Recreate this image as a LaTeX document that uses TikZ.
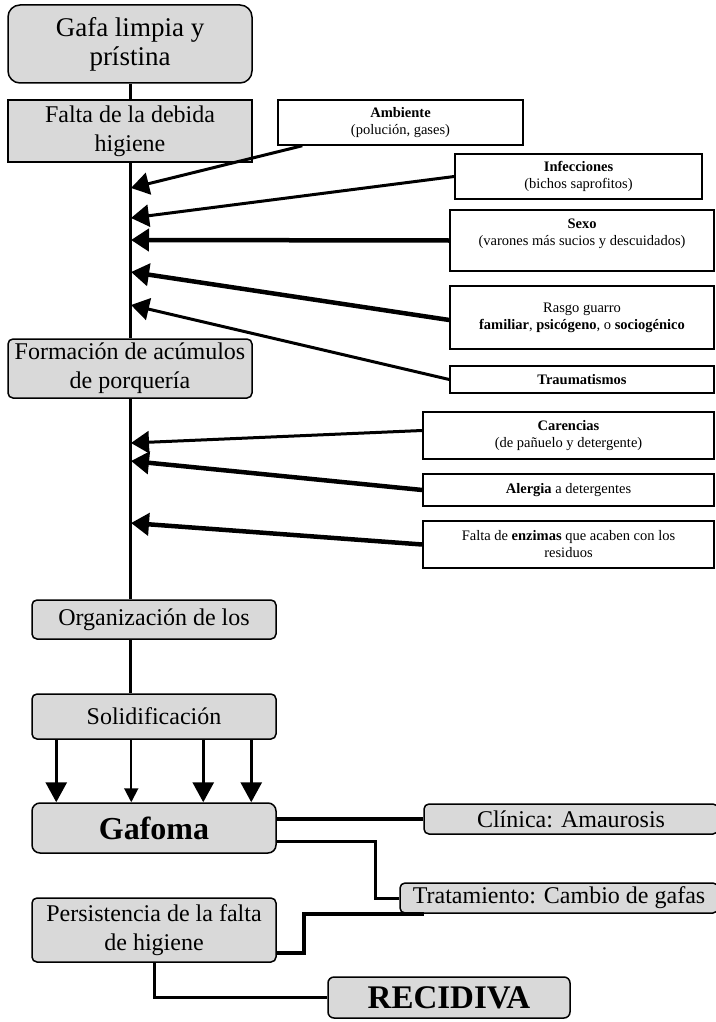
\documentclass[tikz,border=0pt]{standalone}
\usepackage{fontspec}
\setmainfont{Liberation Serif}
\usetikzlibrary{arrows.meta}

\newcommand{\letragrande}{\fontsize{24}{29}\selectfont}
\newcommand{\letrachica}{\fontsize{14.5}{17}\selectfont}

\begin{document}
\begin{tikzpicture}[x=1pt, y=-1pt,
        etapa/.style={
        draw=black, line width=1.5pt, fill=black!15,
        inner sep=0pt, align=center, font=\letragrande,
        minimum width=244pt, rounded corners=5pt},
        factor/.style={
        draw=black, line width=1.5pt, fill=white,
        inner sep=0pt, align=center, font=\letrachica},
        eje/.style={line width=3pt},
        enlace/.style={line width=3pt},
        causa/.style={line width=3pt, -{Triangle[length=18pt,width=22pt]}},
        causa gruesa/.style={causa, line width=4.5pt},
        caida/.style={line width=3pt, -{Triangle[length=20pt,width=21pt]}},
        caida fina/.style={line width=2pt, -{Triangle[length=14pt,width=14pt]}},
        ]

        \useasboundingbox (0,0) rectangle (715,1022);

        \node (gafa) [etapa, rounded corners=12pt, minimum height=78pt,
            font=\fontsize{27}{29}\selectfont] at (130,44) {Gafa limpia y\\prístina};
        \node (falta) [etapa, sharp corners, minimum height=62pt] at (130,131) {Falta de la debida\\higiene};
        \node (formacion) [etapa, minimum height=59pt] at (130,368.5) {Formación de acúmulos\\de porquería};
        \node (organizacion) [etapa, minimum height=39pt] at (154,619.5) {Organización de los};
        \node (solid) [etapa, minimum height=45pt] at (154,716.5) {Solidificación};
        \node (gafoma) [etapa, rounded corners=8pt, minimum height=50pt,
            font=\fontsize{32}{38}\selectfont\bfseries] at (154,828) {Gafoma};
        \node (clinica) [etapa, minimum width=294pt, minimum height=30pt] at (571,819) {Clínica: Amaurosis};
        \node (trat) [etapa, minimum width=318pt, minimum height=30pt] at (559,898) {Tratamiento: Cambio de gafas};
        \node (persist) [etapa, minimum height=64pt] at (154,930) {Persistencia de la falta\\de higiene};
        \node (recidiva) [etapa, rounded corners=6pt, minimum width=242pt, minimum height=41pt,
            font=\fontsize{33}{40}\selectfont\bfseries] at (449,997.5) {RECIDIVA};

        \node (ambiente) [factor, minimum width=245pt, minimum height=45pt] at (400.5,122.5)
            {\textbf{Ambiente}\\(polución, gases)};
        \node (infecciones) [factor, minimum width=247pt, minimum height=45pt] at (578.5,176.5)
            {\textbf{Infecciones}\\(bichos saprofitos)};
        \node (sexo) [factor, minimum width=264pt, minimum height=61pt] at (582,240.5)
            {\textbf{Sexo}\\(varones más sucios y descuidados)\\\mbox{}};
        \node (rasgo) [factor, minimum width=264pt, minimum height=63pt] at (582,317.5)
            {Rasgo guarro\\\textbf{familiar}, \textbf{psicógeno}, o \textbf{sociogénico}};
        \node (trauma) [factor, minimum width=264pt, minimum height=27pt] at (582,379.5)
            {\textbf{Traumatismos}};
        \node (carencias) [factor, minimum width=291pt, minimum height=47pt] at (568.5,435.5)
            {\textbf{Carencias}\\(de pañuelo y detergente)};
        \node (alergia) [factor, minimum width=291pt, minimum height=32pt] at (568.5,490)
            {\textbf{Alergia} a detergentes};
        \node (enzimas) [factor, minimum width=291pt, minimum height=47pt] at (568.5,544.5)
            {Falta de \textbf{enzimas} que acaben con los\\residuos};

        \coordinate (p1) at (131,188);
        \coordinate (p2) at (131,218);
        \coordinate (p3) at (131,240);
        \coordinate (p4) at (131,272);
        \coordinate (p5) at (131,305);
        \coordinate (p6) at (131,443);
        \coordinate (p7) at (131,461);
        \coordinate (p8) at (131,523);

        \draw [eje] (gafa) -- (falta);
        \draw [eje] (falta) -- (formacion);
        \draw [eje] (formacion) -- (organizacion.north -| formacion);
        \draw [eje] (organizacion.south -| formacion) -- (solid.north -| formacion);

        \draw [causa] ([xshift=25pt]ambiente.south west) -- (p1);
        \draw [causa] (infecciones.west) -- (p2);
        \draw [causa gruesa] (sexo.west) -- (p3);
        \draw [causa gruesa] ([yshift=-2.5pt]rasgo.west) -- (p4);
        \draw [causa] (trauma.west) -- (p5);
        \draw [causa] ([yshift=5pt]carencias.west) -- (p6);
        \draw [causa gruesa] (alergia.west) -- (p7);
        \draw [causa gruesa] (enzimas.west) -- (p8);

        \foreach \dx in {25,172,220}
            \draw [caida] ([xshift=\dx pt]solid.south west) -- ([xshift=\dx pt]gafoma.north west);
        \draw [caida fina] ([xshift=100pt]solid.south west) -- ([xshift=100pt]gafoma.north west);

        \draw [enlace, line width=3.5pt] (gafoma.east |- clinica.west) -- (clinica.west);
        \draw [enlace] ([yshift=-13pt]gafoma.east) -| ([xshift=-24pt]trat.west) -- (trat.west);
        \draw [enlace, line width=4pt] ([yshift=-23pt]persist.east) -- ++(27,0) |- ([xshift=25pt]trat.south west);
        \draw [enlace] (persist.south) |- (recidiva.west);
    \end{tikzpicture}
\end{document}
